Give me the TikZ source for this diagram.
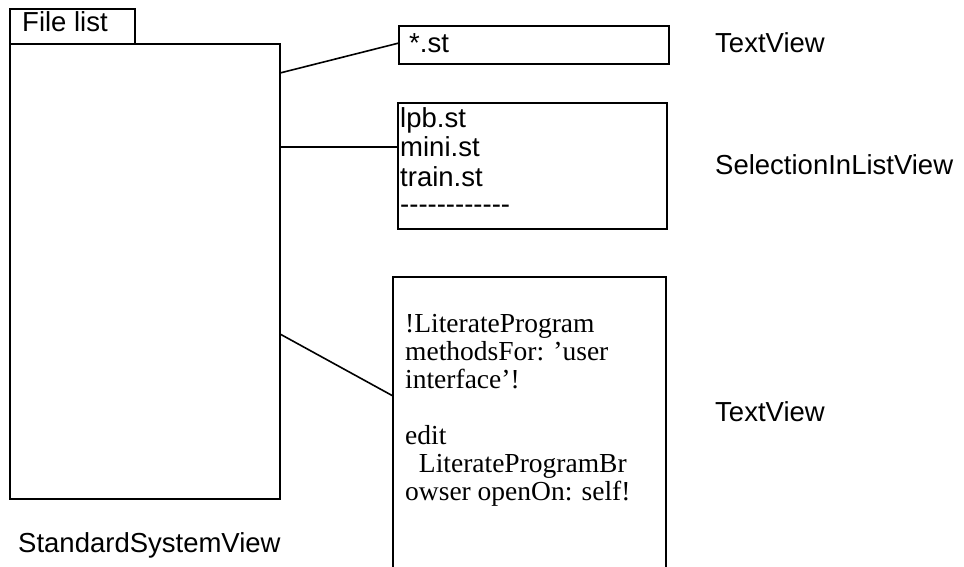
\documentclass[tikz,border=0pt]{standalone}
\usepackage{fontspec}
\setmainfont{Liberation Serif}
\setsansfont{Liberation Sans}
\newcommand\hy{-\kern0pt}
\begin{document}
\begin{tikzpicture}[x=1pt,y=-1pt,
  box/.style={draw,line width=1.6pt,inner sep=0pt,outer sep=0pt,anchor=north west},
  conn/.style={line width=1.6pt},
  stxt/.style={font=\sffamily\fontsize{27.5}{28.5}\selectfont,anchor=base west,inner sep=0pt},
  rtxt/.style={font=\rmfamily\fontsize{27.5}{28.5}\selectfont,anchor=base west,inner sep=0pt}]
\useasboundingbox (0,0) rectangle (964,567);
\clip (0,0) rectangle (964,567);
% main window
\node[box,minimum width=125pt,minimum height=35pt] (tab) at (10,9) {};
\node[box,minimum width=270pt,minimum height=455pt] (main) at (10,44) {};
\node[stxt] (tabt) at (22,32) {File list};
% *.st box
\node[box,minimum width=270pt,minimum height=38pt] (star) at (399,26) {};
\node[stxt] (start) at (409,53) {*.st};
% list box
\node[box,minimum width=269pt,minimum height=126pt] (list) at (398,103) {};
\node[stxt] (l1) at (400,128) {lpb.st};
\node[stxt] (l2) at (400,157) {mini.st};
\node[stxt] (l3) at (400,186) {train.st};
\node[stxt] (l4) at (400,213) {\hy\hy\hy\hy\hy\hy\hy\hy\hy\hy\hy\hy};
% code box
\node[box,minimum width=273pt,minimum height=320pt] (code) at (393,277) {};
\node[rtxt] (c1) at (405,332) {!LiterateProgram};
\node[rtxt] (c2) at (405,360) {methodsFor: ’user};
\node[rtxt] (c3) at (405,388) {interface’!};
\node[rtxt] (c4) at (405,444) {edit};
\node[rtxt] (c5) at (405,472) {\ \ LiterateProgramBr};
\node[rtxt] (c6) at (405,500) {owser openOn: self!};
% labels
\node[stxt] (lab1) at (715,53) {TextView};
\node[stxt] (lab2) at (715,175) {SelectionInListView};
\node[stxt] (lab3) at (715,421) {TextView};
\node[stxt] (lab4) at (18,552) {StandardSystemView};
% connectors
\draw[conn] ([yshift=-29pt]main.north east) -- ([yshift=-17pt]star.north west);
\draw[conn] ([yshift=-103pt]main.north east) -- ([yshift=-44pt]list.north west);
\draw[conn] ([yshift=-290pt]main.north east) -- ([yshift=-119pt]code.north west);
\end{tikzpicture}
\end{document}
